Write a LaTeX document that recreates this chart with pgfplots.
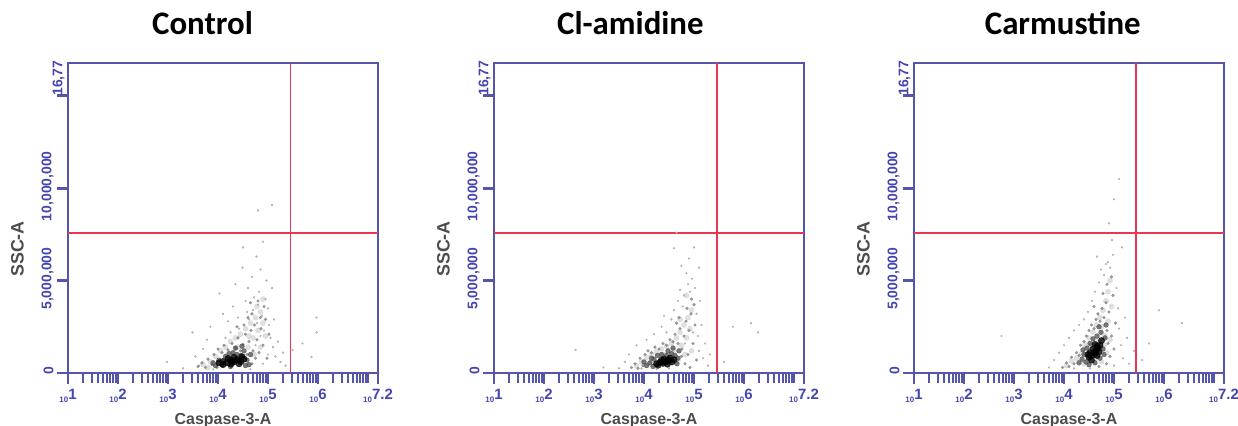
\documentclass[border=0pt]{standalone}
\usepackage{pgfplots}
\pgfplotsset{compat=1.18}
\usepackage{fontspec}
\setmainfont{Liberation Sans}
\newfontfamily\titlefont{Carlito}

\definecolor{axBlue}{HTML}{5555AA}
\definecolor{lblBlue}{HTML}{4545B0}
\definecolor{gateRed}{HTML}{E8384F}

% flow-cytometry style decade label: small "10" + exponent
\newcommand{\dec}[1]{{\fontsize{8}{8}\selectfont 10}\raisebox{3bp}{\fontsize{15}{15}\selectfont #1}}

\pgfplotsset{
  flow/.style={
    scale only axis, width=310bp, height=310bp,
    xmin=1, xmax=7.2, ymin=0, ymax=16.777215,
    axis line style={axBlue, line width=2.6bp},
    tick style={axBlue},
    major tick style={axBlue, line width=2.8bp},
    minor tick style={axBlue, line width=2bp},
    tick align=outside, xtick pos=bottom, ytick pos=left,
    major tick length=11bp, minor tick length=10bp,
    xtick={1,2,3,4,5,6,7.2},
    xticklabels={\dec{1},\dec{2},\dec{3},\dec{4},\dec{5},\dec{6},\dec{7.2}},
    minor xtick={1.301,1.477,1.602,1.699,1.778,1.845,1.903,1.954,
                 2.301,2.477,2.602,2.699,2.778,2.845,2.903,2.954,
                 3.301,3.477,3.602,3.699,3.778,3.845,3.903,3.954,
                 4.301,4.477,4.602,4.699,4.778,4.845,4.903,4.954,
                 5.301,5.477,5.602,5.699,5.778,5.845,5.903,5.954,
                 6.301,6.477,6.602,6.699,6.778,6.845,6.903,6.954,7},
    ytick={0,5,10,15},
    yticklabels={0,{5,000,000},{10,000,000},{}},
    extra y ticks={15.85}, extra y tick labels={16{,}77},
    extra y tick style={major tick length=0pt},
    tick label style={lblBlue, font=\bfseries\fontsize{14}{15}\selectfont},
    yticklabel style={rotate=90, anchor=south, xshift=2bp},
    xticklabel style={yshift=-2bp},
    xlabel={Caspase-3-A}, ylabel={SSC-A},
    label style={font=\bfseries\fontsize{16}{18}\selectfont, color=black!70},
    xlabel style={yshift=-3bp},
    ylabel style={at={(ticklabel cs:0.4)}, font=\bfseries\fontsize{18}{18}\selectfont},
    title style={font=\titlefont\bfseries\fontsize{33}{36}\selectfont, anchor=base, yshift=23bp},
  },
  haze/.style={only marks, mark=*, mark size=2.6bp, color=black!22, opacity=0.55},
  lite/.style={only marks, mark=*, mark size=0.9bp, color=black!30},
  mid/.style={only marks, mark=*, mark size=1.4bp, color=black!50, opacity=0.75},
  dark/.style={only marks, mark=*, mark size=2.4bp, color=black!70, opacity=0.75},
  core/.style={only marks, mark=*, mark size=3.2bp, color=black, opacity=0.8},
  gate/.style={gateRed, line width=1.8bp},
}

\begin{document}
\begin{tikzpicture}
\useasboundingbox (0,-53bp) rectangle (1238bp,373bp);

% ---------- Control ----------
\begin{axis}[flow, at={(68bp,0bp)}, anchor=south west,
  title={Control}, title style={at={(axis description cs:0.434,1)}}]
\addplot[haze] coordinates {(3.70,0.45) (3.85,0.60) (3.95,0.9) (4.05,1.2) (4.15,1.4) (4.25,1.7) (4.35,1.9) (4.45,2.1) (4.55,2.4) (4.65,2.7) (4.75,3.0) (4.85,3.3) (4.60,1.4) (4.70,1.9) (4.80,2.3) (4.90,2.7) (4.50,0.9) (4.72,1.0) (4.85,1.4) (4.40,1.4) (4.62,2.0) (4.78,3.6) (4.90,4.0) (4.95,2.0) (4.00,0.5) (4.30,0.9) (3.80,0.3)};
\addplot[lite] coordinates {(3.49,2.2) (2.98,0.6) (3.30,0.25) (3.55,0.9) (3.62,0.4) (3.70,1.3) (3.78,1.8) (3.85,2.5) (4.03,4.3) (4.10,3.2) (4.20,2.8) (4.30,3.6) (4.35,4.8) (4.42,2.4) (4.49,5.7) (4.55,3.9) (4.60,4.6) (4.62,2.9) (4.68,5.2) (4.70,3.4) (4.72,4.1) (4.77,6.3) (4.78,2.7) (4.80,3.7) (4.82,4.4) (4.85,5.6) (4.88,3.1) (4.90,7.1) (4.92,2.3) (4.95,4.0) (4.97,5.0) (5.00,3.5) (5.02,2.6) (5.05,1.9) (5.08,4.6) (5.10,1.4) (5.12,2.9) (5.15,0.9) (5.20,1.7) (5.25,0.6) (5.30,1.1) (5.35,0.4) (4.80,8.8) (5.08,9.1) (5.49,1.25) (5.69,1.6) (5.87,0.87) (5.97,2.2) (5.97,3.0) (4.50,6.8) (4.65,0.2) (4.90,0.5) (5.00,1.0) (3.90,0.2) (4.15,1.9) (4.25,2.2) (4.40,3.0) (4.58,3.3) (4.75,1.5) (4.85,2.0)};
\addplot[mid] coordinates {(3.60,0.35) (3.68,0.55) (3.75,0.30) (3.80,0.75) (3.88,0.45) (3.92,1.0) (3.98,0.30) (4.00,1.3) (4.08,1.1) (4.12,1.5) (4.20,1.25) (4.28,1.6) (4.35,1.35) (4.40,1.9) (4.45,1.2) (4.50,1.55) (4.55,2.1) (4.58,1.0) (4.62,1.7) (4.66,2.3) (4.70,1.2) (4.73,2.6) (4.78,1.8) (4.82,1.1) (4.86,2.4) (4.90,1.5) (4.95,2.9) (4.98,0.8) (5.02,2.1) (4.68,0.5) (4.75,0.8) (4.60,3.0) (4.68,3.2) (4.85,3.0) (4.52,2.6) (4.38,2.5) (4.80,3.9) (4.92,3.6) (4.65,3.8)};
\addplot[dark] coordinates {(3.90,0.55) (3.95,0.40) (4.02,0.70) (4.08,0.45) (4.15,0.90) (4.22,1.05) (4.30,1.1) (4.38,1.0) (4.45,0.95) (4.52,1.2) (4.58,0.7) (4.62,0.45) (4.65,1.0) (4.55,0.40) (4.48,1.45) (4.35,1.35) (4.25,0.35)};
\addplot[core] coordinates {(4.02,0.55) (4.10,0.62) (4.18,0.55) (4.25,0.70) (4.32,0.60) (4.39,0.72) (4.46,0.62) (4.52,0.75) (4.20,0.78) (4.32,0.85) (4.42,0.50) (4.10,0.45) (4.26,0.48) (4.48,0.88) (4.36,0.70) (4.28,0.60)};
\addplot[gate] coordinates {(1,7.58) (7.2,7.58)};
\addplot[gate] coordinates {(5.45,0) (5.45,16.78)};
\end{axis}

% ---------- Cl-amidine ----------
\begin{axis}[flow, at={(494bp,0bp)}, anchor=south west,
  title={Cl-amidine}, title style={at={(axis description cs:0.44,1)}}]
\addplot[haze] coordinates {(3.85,0.40) (3.95,0.6) (4.05,0.85) (4.15,1.0) (4.25,1.15) (4.35,1.3) (4.45,1.45) (4.55,1.6) (4.65,1.9) (4.72,2.2) (4.80,2.6) (4.88,3.0) (4.95,3.4) (4.60,1.2) (4.75,1.5) (4.85,1.9) (4.92,2.4) (4.68,0.7) (4.82,1.0) (4.95,1.2) (4.50,1.0) (4.72,2.9) (4.85,4.2) (4.10,0.5) (4.40,1.0)};
\addplot[lite] coordinates {(2.63,1.25) (3.19,0.30) (3.50,0.25) (3.62,0.60) (3.70,1.0) (3.85,1.5) (4.05,1.8) (4.20,2.1) (4.35,2.5) (4.45,2.2) (4.55,2.9) (4.60,3.4) (4.68,3.9) (4.72,4.5) (4.78,3.6) (4.80,4.2) (4.85,5.4) (4.88,4.8) (4.92,4.4) (4.96,5.1) (5.00,6.8) (4.60,6.75) (5.10,5.7) (5.02,4.6) (5.05,3.2) (5.08,2.0) (5.10,1.2) (5.15,2.6) (5.18,0.8) (5.22,1.6) (5.28,0.4) (5.32,1.0) (5.78,2.5) (6.14,2.7) (6.28,2.2) (5.60,0.6) (4.98,2.2) (4.82,1.6) (4.50,0.25) (4.40,3.1) (4.75,5.8) (4.90,6.2) (5.12,3.9) (4.65,7.6) (3.95,0.25) (4.25,0.20)};
\addplot[mid] coordinates {(3.75,0.30) (3.82,0.50) (3.88,0.25) (3.92,0.80) (3.98,0.40) (4.02,1.0) (4.08,1.2) (4.15,1.1) (4.22,1.4) (4.30,1.3) (4.38,1.6) (4.45,1.5) (4.52,1.8) (4.58,1.7) (4.62,2.1) (4.68,1.6) (4.72,2.4) (4.76,1.3) (4.80,2.0) (4.84,2.8) (4.88,1.0) (4.90,2.3) (4.94,3.2) (4.98,1.6) (5.02,2.6) (5.05,0.7) (4.82,0.5) (4.75,0.9) (4.70,3.0) (4.86,3.5) (4.95,4.0) (4.92,0.3) (4.65,2.7) (5.00,3.7)};
\addplot[dark] coordinates {(4.05,0.40) (4.12,0.55) (4.18,0.35) (4.20,0.75) (4.27,0.95) (4.35,1.0) (4.45,0.95) (4.55,1.05) (4.62,0.95) (4.66,0.50) (4.70,1.2) (4.58,1.35) (4.48,1.2) (4.15,0.80) (4.00,0.60) (4.68,0.80)};
\addplot[core] coordinates {(4.25,0.50) (4.32,0.58) (4.38,0.52) (4.44,0.62) (4.50,0.68) (4.56,0.60) (4.35,0.70) (4.47,0.48) (4.52,0.80) (4.40,0.75) (4.28,0.42) (4.60,0.72) (4.42,0.60) (4.48,0.70)};
\addplot[gate] coordinates {(1,7.58) (7.2,7.58)};
\addplot[gate] coordinates {(5.46,0) (5.46,16.78)};
\end{axis}

% ---------- Carmustine ----------
\begin{axis}[flow, at={(914bp,0bp)}, anchor=south west,
  title={Carmustine}, title style={at={(axis description cs:0.48,1)}}]
\addplot[haze] coordinates {(4.05,0.40) (4.15,0.65) (4.25,0.80) (4.35,1.05) (4.42,1.5) (4.50,1.9) (4.58,2.2) (4.65,2.6) (4.72,3.0) (4.78,3.4) (4.84,3.9) (4.88,4.4) (4.75,2.5) (4.82,2.0) (4.88,2.8) (4.92,1.8) (4.70,1.8) (4.80,1.5) (4.85,1.1) (4.62,0.75) (4.75,0.6) (4.40,0.5) (4.55,1.5) (4.95,3.6) (4.92,5.0)};
\addplot[lite] coordinates {(2.75,2.0) (3.70,0.30) (3.80,0.70) (3.90,1.1) (4.00,1.5) (4.10,1.9) (4.20,2.3) (4.30,2.6) (4.40,2.9) (4.48,3.3) (4.56,3.9) (4.62,4.4) (4.70,4.9) (4.74,5.6) (4.80,5.3) (4.88,6.0) (4.92,5.7) (4.96,7.2) (4.90,8.1) (5.00,9.4) (5.10,10.5) (5.16,6.8) (5.05,4.6) (5.08,3.5) (5.10,2.4) (5.14,1.5) (5.18,0.8) (5.22,3.0) (5.26,1.9) (5.30,0.5) (5.56,0.7) (5.70,1.6) (5.90,3.4) (6.36,2.7) (5.40,1.2) (4.98,6.4) (4.84,5.9) (4.66,6.3) (4.52,0.25) (4.20,0.25) (5.00,0.4)};
\addplot[mid] coordinates {(3.97,0.30) (4.05,0.55) (4.10,0.35) (4.15,0.85) (4.20,0.50) (4.25,1.1) (4.30,0.95) (4.33,1.5) (4.40,1.7) (4.45,2.0) (4.50,2.3) (4.55,2.6) (4.60,2.4) (4.64,2.9) (4.68,3.2) (4.72,2.8) (4.76,3.5) (4.80,3.0) (4.84,3.8) (4.86,2.3) (4.88,1.6) (4.90,3.3) (4.92,0.9) (4.95,2.0) (4.98,4.2) (5.00,1.3) (5.03,2.7) (4.78,4.3) (4.86,4.8) (4.70,0.35) (4.85,0.5) (4.95,5.2) (4.60,3.6)};
\addplot[dark] coordinates {(4.30,0.55) (4.36,0.75) (4.40,1.0) (4.44,0.60) (4.46,1.35) (4.52,1.6) (4.58,1.85) (4.66,2.0) (4.74,2.2) (4.78,1.3) (4.80,1.0) (4.72,0.8) (4.62,0.55) (4.82,1.9) (4.70,2.5) (4.38,1.25) (4.84,2.6) (4.50,0.45)};
\addplot[core] coordinates {(4.50,0.85) (4.56,0.95) (4.60,1.10) (4.64,1.20) (4.68,1.35) (4.72,1.50) (4.58,1.30) (4.66,0.95) (4.52,1.10) (4.70,1.15) (4.62,1.55) (4.75,1.75) (4.55,0.70) (4.48,1.00) (4.62,1.05) (4.66,1.45)};
\addplot[gate] coordinates {(1,7.58) (7.2,7.58)};
\addplot[gate] coordinates {(5.44,0) (5.44,16.78)};
\end{axis}
\end{tikzpicture}
\end{document}
